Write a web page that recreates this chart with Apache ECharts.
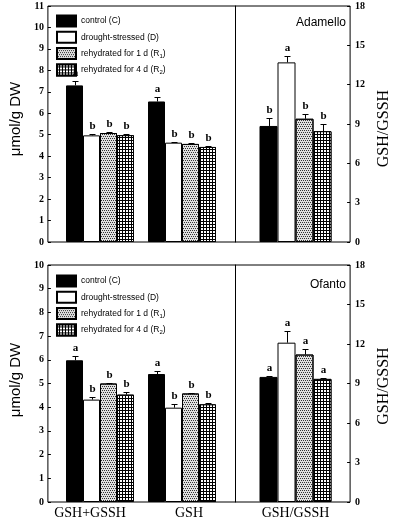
<!DOCTYPE html>
<html>
<head>
<meta charset="utf-8">
<script src="https://cdn.jsdelivr.net/npm/echarts@6/dist/echarts.min.js"></script>
<style>html,body{margin:0;padding:0;background:#fff}#c{width:400px;height:523px}</style>
</head>
<body>
<div id="c"></div>
<script>
// ---- data ----
const categoriesLeft = ['GSH+GSSH', 'GSH'];
const categoriesRight = ['GSH/GSSH'];
const seriesNames = ['control (C)', 'drought-stressed (D)', 'rehydrated for 1 d (R1)', 'rehydrated for 4 d (R2)'];
const panelTitles = ['Adamello', 'Ofanto'];
const leftAxisMax = [11, 10];
const rightAxisMax = [18, 18];

// values: [GSH+GSSH (µmol/g DW), GSH (µmol/g DW), GSH/GSSH ratio]
const adamelloControl = [7.30, 6.55, 8.85];
const adamelloDrought = [4.97, 4.63, 13.7];
const adamelloR1      = [5.08, 4.57, 9.40];
const adamelloR2      = [4.98, 4.43, 8.45];
const adamelloControlErr = [0.20, 0.20, 0.60];
const adamelloDroughtErr = [0.07, 0.05, 0.50];
const adamelloR1Err      = [0.05, 0.05, 0.35];
const adamelloR2Err      = [0.07, 0.05, 0.55];
const adamelloControlSig = ['a', 'a', 'b'];
const adamelloDroughtSig = ['b', 'b', 'a'];
const adamelloR1Sig      = ['b', 'b', 'b'];
const adamelloR2Sig      = ['b', 'b', 'b'];

const ofantoControl = [5.98, 5.40, 9.50];
const ofantoDrought = [4.32, 3.98, 12.1];
const ofantoR1      = [5.00, 4.58, 11.2];
const ofantoR2      = [4.53, 4.12, 9.35];
const ofantoControlErr = [0.17, 0.14, 0.05];
const ofantoDroughtErr = [0.10, 0.14, 0.85];
const ofantoR1Err      = [0.03, 0.02, 0.40];
const ofantoR2Err      = [0.10, 0.04, 0.05];
const ofantoControlSig = ['a', 'a', 'a'];
const ofantoDroughtSig = ['b', 'b', 'a'];
const ofantoR1Sig      = ['b', 'b', 'a'];
const ofantoR2Sig      = ['b', 'b', 'a'];

const panels = [
  { vals: [adamelloControl, adamelloDrought, adamelloR1, adamelloR2],
    errs: [adamelloControlErr, adamelloDroughtErr, adamelloR1Err, adamelloR2Err],
    sigs: [adamelloControlSig, adamelloDroughtSig, adamelloR1Sig, adamelloR2Sig] },
  { vals: [ofantoControl, ofantoDrought, ofantoR1, ofantoR2],
    errs: [ofantoControlErr, ofantoDroughtErr, ofantoR1Err, ofantoR2Err],
    sigs: [ofantoControlSig, ofantoDroughtSig, ofantoR1Sig, ofantoR2Sig] }
];

// ---- styles ----
const SERIF = '"Liberation Serif", "Times New Roman", serif';
const SANS = '"Liberation Sans", Arial, sans-serif';
const barStyles = [
  { color: '#000000', borderColor: '#000', borderWidth: 1 },
  { color: '#ffffff', borderColor: '#000', borderWidth: 1 },
  { color: '#e0e0e0', borderColor: '#000', borderWidth: 1,
    decal: { symbol: 'rect', symbolSize: 1, dashArrayX: [[1, 1], [0, 1, 1, 0]], dashArrayY: [1, 1], rotation: 0, color: '#333' } },
  { color: '#000000', borderColor: '#000', borderWidth: 1,
    decal: { symbol: 'rect', symbolSize: 1, dashArrayX: [2, 1], dashArrayY: [2, 1], rotation: 0, color: '#ffffff' } }
];
const layout = [
  { top: 6, height: 236, legendTop: 9.5, titleTop: 12, namePadL: [0, 0, 0, 10], namePadR: [0, 9, 0, 0] },
  { top: 265, height: 237, legendTop: 269.5, titleTop: 274, namePadL: [0, 0, 0, 7], namePadR: [0, 5, 0, 0] }
];
const FRAME_L = 40, FRAME_R = 358, DIV_X = 235;
const BW_L = 17, BW_R = 18;

const grid = [], xAxis = [], yAxis = [], series = [], legend = [], title = [];

panels.forEach((P, p) => {
  const L = layout[p];
  const g0 = grid.length;
  // frame grid
  grid.push({ left: FRAME_L, top: L.top, width: FRAME_R - FRAME_L, height: L.height, show: true,
    borderColor: '#000', borderWidth: 1, backgroundColor: 'transparent', z: 0 });
  // left bars grid
  grid.push({ left: 59, top: L.top, width: 164, height: L.height });
  // right bars grid
  grid.push({ left: DIV_X, top: L.top, width: 121, height: L.height });

  const x0 = xAxis.length;
  xAxis.push({ gridIndex: g0, type: 'value', min: 0, max: 1, show: false });
  xAxis.push({ gridIndex: g0 + 1, type: 'category', data: categoriesLeft,
    axisLine: { show: false }, axisTick: { show: false },
    axisLabel: { show: p === 1, interval: 0, hideOverlap: false, color: '#000', fontFamily: SERIF, fontSize: 14, margin: 4,
      formatter: (v, i) => i === 0 ? '{l|' + v + '}' : '{r|' + v + '}',
      rich: { l: { fontFamily: SERIF, fontSize: 14, color: '#000', padding: [0, 20, 0, 0] },
              r: { fontFamily: SERIF, fontSize: 14, color: '#000', padding: [0, 0, 0, 14] } } } });
  xAxis.push({ gridIndex: g0 + 2, type: 'category', data: categoriesRight,
    axisLine: { show: false }, axisTick: { show: false },
    axisLabel: { show: p === 1, interval: 0, color: '#000', fontFamily: SERIF, fontSize: 14, margin: 4 } });

  const y0 = yAxis.length;
  const labelStyle = { color: '#000', fontFamily: SERIF, fontWeight: 'bold', fontSize: 10 };
  yAxis.push({ gridIndex: g0, type: 'value', position: 'left', min: 0, max: leftAxisMax[p], interval: 1,
    axisLine: { show: false }, splitLine: { show: false },
    axisTick: { show: true, inside: true, length: 3, lineStyle: { color: '#000' } },
    axisLabel: Object.assign({ margin: 4 }, labelStyle),
    name: 'μmol/g DW', nameLocation: 'middle', nameGap: 21,
    nameTextStyle: { fontFamily: SANS, fontSize: 15, color: '#000', padding: L.namePadL } });
  yAxis.push({ gridIndex: g0, type: 'value', position: 'right', min: 0, max: rightAxisMax[p], interval: 3,
    axisLine: { show: false }, splitLine: { show: false },
    axisTick: { show: true, inside: true, length: 3, lineStyle: { color: '#000' } },
    axisLabel: Object.assign({ margin: 5 }, labelStyle),
    name: 'GSH/GSSH', nameLocation: 'middle', nameGap: 25,
    nameTextStyle: { fontFamily: SERIF, fontSize: 16, color: '#000', padding: L.namePadR } });
  yAxis.push({ gridIndex: g0 + 1, type: 'value', min: 0, max: leftAxisMax[p], show: false });
  yAxis.push({ gridIndex: g0 + 2, type: 'value', min: 0, max: rightAxisMax[p],
    axisLine: { show: true, lineStyle: { color: '#000', width: 1 } },
    axisTick: { show: false }, axisLabel: { show: false }, splitLine: { show: false } });

  // bars
  seriesNames.forEach((name, k) => {
    series.push({ type: 'bar', name, xAxisIndex: x0 + 1, yAxisIndex: y0 + 2,
      data: P.vals[k].slice(0, 2), barWidth: BW_L, barGap: '0%', itemStyle: barStyles[k],
      emphasis: { disabled: true }, z: 2 });
    series.push({ type: 'bar', name, xAxisIndex: x0 + 2, yAxisIndex: y0 + 3,
      data: [P.vals[k][2]], barWidth: BW_R, barGap: '0%', itemStyle: barStyles[k],
      emphasis: { disabled: true }, z: 2 });
  });

  // error bars + significance letters
  const makeItems = (cats) => {
    const items = [];
    cats.forEach((ci, c) => {
      seriesNames.forEach((n, k) => {
        items.push({ cat: c, k, val: P.vals[k][ci], err: P.errs[k][ci], letter: P.sigs[k][ci] });
      });
    });
    return items;
  };
  const mkCustom = (items, xi, yi, bw) => ({
    type: 'custom', xAxisIndex: xi, yAxisIndex: yi, z: 5, silent: true,
    data: items.map(it => [it.cat, it.val + it.err]),
    renderItem: (params, api) => {
      const it = items[params.dataIndex];
      const base = api.coord([it.cat, it.val]);
      const top = api.coord([it.cat, it.val + it.err]);
      const x = Math.round(base[0] + (it.k - 1.5) * bw) + 0.5;
      const yt = Math.round(top[1]) + 0.5;
      return { type: 'group', children: [
        { type: 'line', shape: { x1: x, y1: base[1], x2: x, y2: yt }, style: { stroke: '#000', lineWidth: 1 } },
        { type: 'line', shape: { x1: x - 3, y1: yt, x2: x + 3, y2: yt }, style: { stroke: '#000', lineWidth: 1 } },
        { type: 'text', style: { text: it.letter, x: x, y: yt - 3, align: 'center', verticalAlign: 'bottom',
          font: 'bold 11px ' + SERIF, fill: '#000' } }
      ] };
    }
  });
  series.push(mkCustom(makeItems([0, 1]), x0 + 1, y0 + 2, BW_L));
  series.push(mkCustom(makeItems([2]), x0 + 2, y0 + 3, BW_R));

  legend.push({ data: seriesNames, orient: 'vertical', left: 51, top: L.legendTop,
    itemWidth: 19, itemHeight: 11, itemGap: 3.3, icon: 'rect', selectedMode: false,
    formatter: n => n.replace(/\(R(\d)\)/, '(R{sub|$1})'),
    textStyle: { fontFamily: SANS, fontSize: 8.5, color: '#000',
      rich: { sub: { fontFamily: SANS, fontSize: 6, color: '#000', padding: [5, 0, 0, 0] } } } });

  title.push({ text: panelTitles[p], right: 49, top: L.titleTop,
    textStyle: { fontFamily: SANS, fontSize: 12, fontWeight: 'normal', color: '#000' } });
});

const chart = echarts.init(document.getElementById('c'), null, { renderer: 'canvas' });
chart.setOption({ animation: false, backgroundColor: '#fff', title, legend, grid, xAxis, yAxis, series });
</script>
</body>
</html>
